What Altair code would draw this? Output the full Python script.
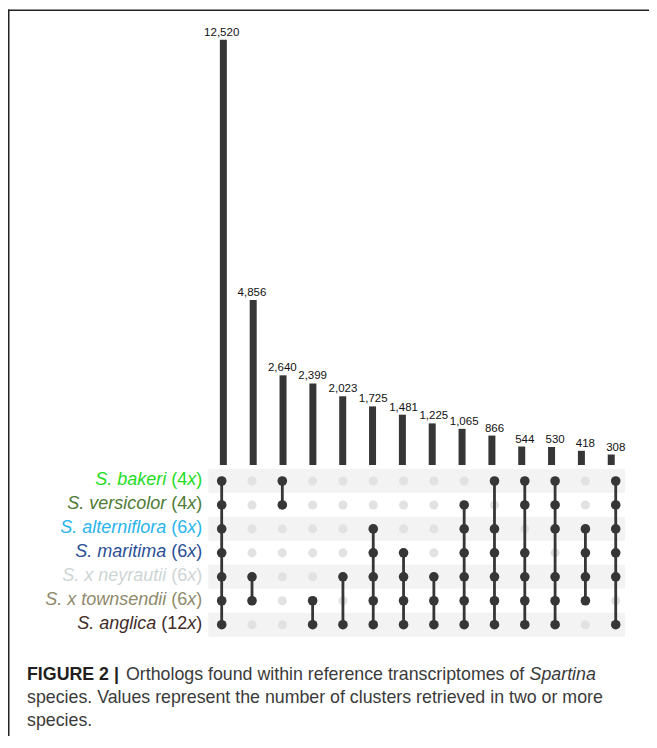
import altair as alt
import pandas as pd

# ---------------- data ----------------
species = ["S. bakeri", "S. versicolor", "S. alterniflora", "S. maritima",
           "S. x neyrautii", "S. x townsendii", "S. anglica"]
ploidy = ["4", "4", "6", "6", "6", "6", "12"]
counts = [12520, 4856, 2640, 2399, 2023, 1725, 1481, 1225, 1065, 866, 544, 530, 418, 308]
members = [
    [0, 1, 2, 3, 4, 5, 6],
    [4, 5],
    [0, 1],
    [5, 6],
    [4, 6],
    [2, 3, 4, 5, 6],
    [3, 4, 5, 6],
    [4, 5, 6],
    [1, 2, 3, 4, 5, 6],
    [0, 2, 3, 4, 5, 6],
    [0, 1, 3, 4, 5, 6],
    [0, 1, 2, 4, 5, 6],
    [2, 3, 4, 5],
    [0, 1, 2, 3, 4, 6],
]
caption_bold = "FIGURE 2 |"
caption_line1 = "Orthologs found within reference transcriptomes of"
caption_italic = "Spartina"
caption_line2 = "species. Values represent the number of clusters retrieved in two or more"
caption_line3 = "species."

# ---------------- styles ----------------
label_colors = ["#22dd22", "#4e7b35", "#2ab4ee", "#2a4f96", "#cdd5d4", "#8e8a6b", "#412b29"]
DARK = "#363636"
GREY_DOT = "#e2e2e2"
STRIPE = "#f3f3f3"
FONT = "Liberation Sans"

W, H = 641, 728
LABEL_FS = 18
CAP_FS = 17.8

# Arial / Liberation Sans advance widths (1/1000 em)
REG = {" ": 278, "(": 333, ")": 333, ",": 278, ".": 278, "|": 260,
       "0": 556, "1": 556, "2": 556, "3": 556, "4": 556, "5": 556, "6": 556,
       "7": 556, "8": 556, "9": 556,
       "a": 556, "b": 556, "c": 500, "d": 556, "e": 556, "f": 278, "g": 556,
       "h": 556, "i": 222, "j": 222, "k": 500, "l": 222, "m": 833, "n": 556,
       "o": 556, "p": 556, "q": 556, "r": 333, "s": 500, "t": 278, "u": 556,
       "v": 500, "w": 722, "x": 500, "y": 500, "z": 500, "O": 778, "S": 667, "V": 667}
BOLD = {"F": 611, "I": 278, "G": 778, "U": 722, "R": 722, "E": 667, " ": 278,
        "2": 556, "|": 280}


def tw(s, size, table=REG):
    return sum(table.get(ch, 556) for ch in s) * size / 1000.0


# ---------------- tables ----------------
ncol = len(counts)
bar_df = pd.DataFrame({"col": list(range(1, ncol + 1)), "count": counts, "base": [0] * ncol})

cells = []
for c in range(ncol):
    for r in range(len(species)):
        cells.append({"col": c + 1, "row": r, "on": r in members[c]})
cell_df = pd.DataFrame(cells)
on_df = cell_df[cell_df["on"]]

seg_df = pd.DataFrame({
    "col": list(range(1, ncol + 1)),
    "rmin": [min(m) for m in members],
    "rmax": [max(m) for m in members],
})

stripe_rows = [r for r in range(len(species)) if r % 2 == 0]
stripe_df = pd.DataFrame({
    "r0": [r - 0.5 for r in stripe_rows],
    "r1": [r + 0.5 for r in stripe_rows],
    "c0": [0.558] * len(stripe_rows),
    "c1": [14.31] * len(stripe_rows),
})

RIGHT = 194.3
w_close = tw(")", LABEL_FS)
w_x = tw("x", LABEL_FS)
lab_df = pd.DataFrame({
    "row": list(range(len(species))),
    "sp": species,
    "num": ["(" + p for p in ploidy],
    "nx": [RIGHT - w_close - w_x - tw("(" + p, LABEL_FS) - tw(" ", LABEL_FS) for p in ploidy],
})

# ---------------- scales ----------------
xs = alt.Scale(domain=[-6.0505, 15.098], nice=False, zero=False)
cs = alt.Scale(domain=[-7978, 13453], nice=False, zero=False)
rs = alt.Scale(domain=[-19.749, 10.647], nice=False, zero=False, reverse=True)
colscale = alt.Scale(domain=species, range=label_colors)

X = lambda f: alt.X(f, type="quantitative", scale=xs, axis=None)
R = lambda f: alt.Y(f, type="quantitative", scale=rs, axis=None)

stripes = alt.Chart(stripe_df).mark_rect(color=STRIPE).encode(
    x=X("c0"), x2="c1", y=R("r0"), y2="r1")

grey = alt.Chart(cell_df).mark_circle(size=82, color=GREY_DOT, opacity=1).encode(
    x=X("col"), y=R("row"))

segs = alt.Chart(seg_df).mark_rule(color=DARK, strokeWidth=2.8).encode(
    x=X("col"), y=R("rmin"), y2="rmax")

dots = alt.Chart(on_df).mark_circle(size=92, color=DARK, opacity=1).encode(
    x=X("col"), y=R("row"))

bars = alt.Chart(bar_df).mark_bar(size=7, color=DARK).encode(
    x=X("col"), y=alt.Y("count:Q", scale=cs, axis=None), y2="base")

bar_labels = alt.Chart(bar_df).mark_text(
    font=FONT, fontSize=11.5, baseline="alphabetic", dy=-4, color="#111111").encode(
    x=X("col"), y=alt.Y("count:Q", scale=cs, axis=None),
    text=alt.Text("count:Q", format=","))

col_enc = alt.Color("sp:N", scale=colscale, legend=None)

lab_name = alt.Chart(lab_df).mark_text(
    font=FONT, fontSize=LABEL_FS, fontStyle="italic", align="right",
    baseline="alphabetic", dy=4).encode(
    x=alt.X("nx:Q", scale=None, axis=None), y=R("row"), text="sp:N", color=col_enc)

lab_num = alt.Chart(lab_df).mark_text(
    font=FONT, fontSize=LABEL_FS, align="right", baseline="alphabetic", dy=4).encode(
    x=alt.value(RIGHT - w_close - w_x), y=R("row"), text="num:N", color=col_enc)

lab_x = alt.Chart(lab_df).mark_text(
    font=FONT, fontSize=LABEL_FS, fontStyle="italic", align="right",
    baseline="alphabetic", dy=4, text="x").encode(
    x=alt.value(RIGHT - w_close), y=R("row"), color=col_enc)

lab_close = alt.Chart(lab_df).mark_text(
    font=FONT, fontSize=LABEL_FS, align="right", baseline="alphabetic", dy=4, text=")").encode(
    x=alt.value(RIGHT), y=R("row"), color=col_enc)

# ---------------- caption ----------------
one = pd.DataFrame({"k": [0]})
CX = 19
B1, B2, B3 = 672, 695, 718
x_norm = CX + tw(caption_bold, CAP_FS, BOLD) + tw(" ", CAP_FS) + 2
x_ital = x_norm + tw(caption_line1 + " ", CAP_FS)

cap_bold = alt.Chart(one).mark_text(
    font=FONT, fontSize=CAP_FS, fontWeight="bold", align="left", baseline="alphabetic",
    color="#231f20", text=caption_bold).encode(x=alt.value(CX), y=alt.value(B1))
cap_1 = alt.Chart(one).mark_text(
    font=FONT, fontSize=CAP_FS, align="left", baseline="alphabetic",
    color="#3a3a3a", text=caption_line1).encode(x=alt.value(x_norm), y=alt.value(B1))
cap_it = alt.Chart(one).mark_text(
    font=FONT, fontSize=CAP_FS, fontStyle="italic", align="left", baseline="alphabetic",
    color="#3a3a3a", text=caption_italic).encode(x=alt.value(x_ital), y=alt.value(B1))
cap_2 = alt.Chart(one).mark_text(
    font=FONT, fontSize=CAP_FS, align="left", baseline="alphabetic",
    color="#3a3a3a", text=caption_line2).encode(x=alt.value(CX), y=alt.value(B2))
cap_3 = alt.Chart(one).mark_text(
    font=FONT, fontSize=CAP_FS, align="left", baseline="alphabetic",
    color="#3a3a3a", text=caption_line3).encode(x=alt.value(CX), y=alt.value(B3))

# ---------------- frame ----------------
frame_left = alt.Chart(one).mark_rule(color="#222222", strokeWidth=1.5).encode(
    x=alt.value(0.75), y=alt.value(1.5), y2=alt.value(H))
frame_top = alt.Chart(one).mark_rule(color="#222222", strokeWidth=1.5).encode(
    x=alt.value(0), x2=alt.value(W), y=alt.value(2.2))

chart = alt.layer(
    stripes, grey, segs, dots, bars, bar_labels,
    lab_name, lab_num, lab_x, lab_close,
    cap_bold, cap_1, cap_it, cap_2, cap_3,
    frame_left, frame_top,
).resolve_scale(
    x="independent", y="independent"
).properties(
    width=W, height=H, padding=0, autosize="none", background="white"
).configure_view(stroke=None)

chart.save("out.html", embed_options={"renderer": "svg", "actions": False})
